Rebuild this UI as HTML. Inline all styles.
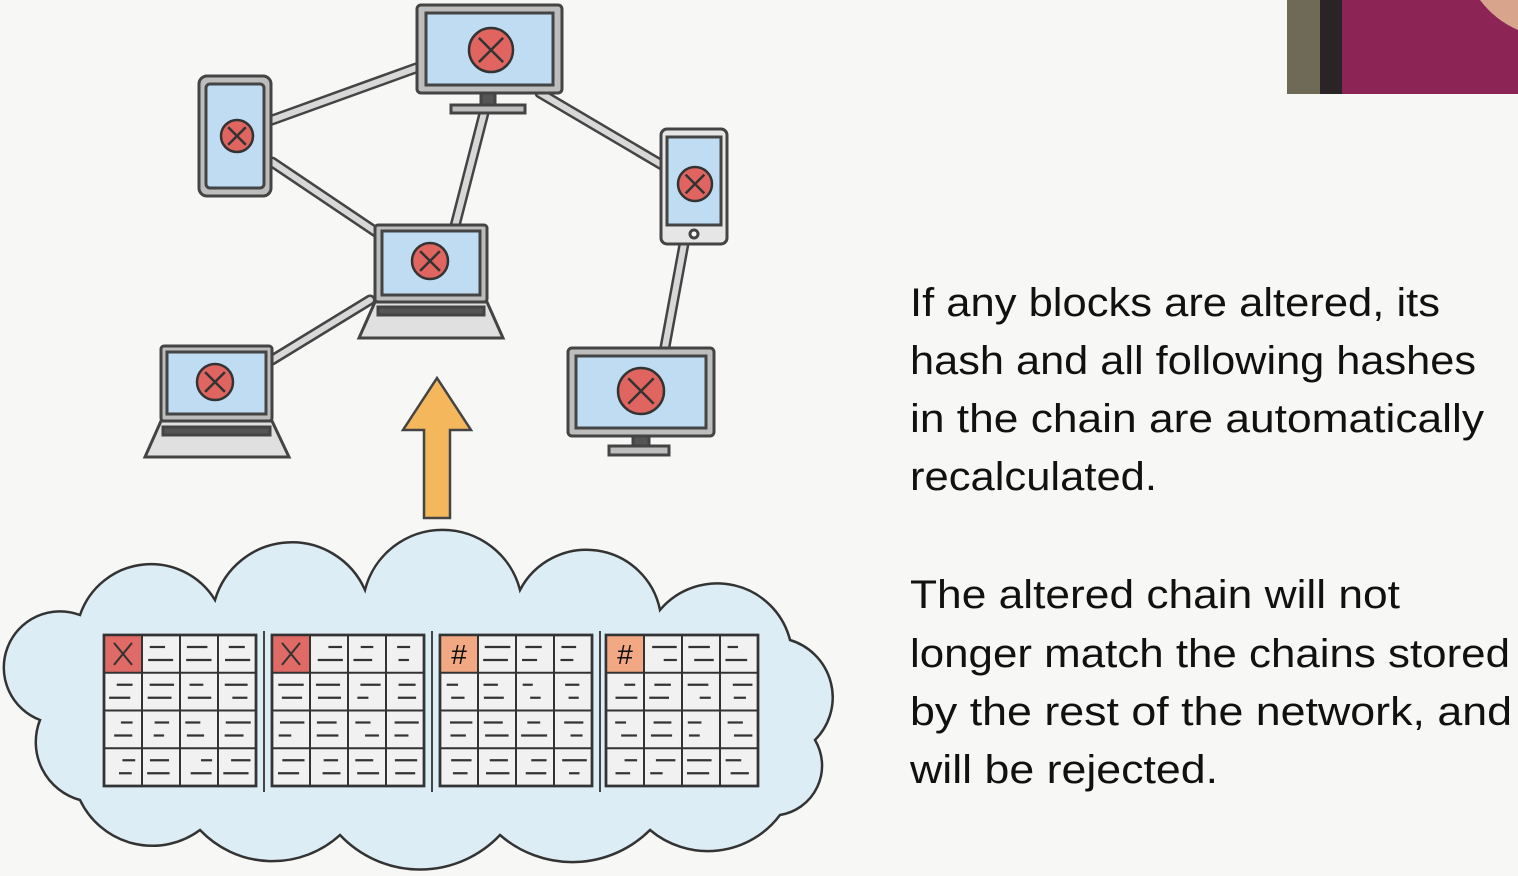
<!DOCTYPE html>
<html><head><meta charset="utf-8"><style>
html,body{margin:0;padding:0;background:#f7f7f5;width:1518px;height:876px;overflow:hidden;}
svg{display:block}
text{font-family:"Liberation Sans",sans-serif;fill:#111;}
</style></head><body>
<svg id="s" width="1518" height="876" viewBox="0 0 1518 876" xmlns="http://www.w3.org/2000/svg">
<rect width="1518" height="876" fill="#f7f7f5"/>
<!-- photo -->
<rect x="1287" y="0" width="231" height="94" fill="#8c2556"/>
<rect x="1287" y="0" width="35" height="94" fill="#6f6a55"/>
<rect x="1320" y="0" width="22" height="94" fill="#2a2426"/>
<path d="M1480,0 L1518,0 L1518,30 Q1495,20 1480,0Z" fill="#d9a48c"/>
<!-- connectors -->
<g stroke-linecap="round" fill="none">
<g stroke="#444" stroke-width="11">
<line x1="416" y1="68" x2="272" y2="120"/><line x1="540" y1="93" x2="662" y2="165"/>
<line x1="484" y1="113" x2="455" y2="226"/><line x1="272" y1="162" x2="376" y2="232"/>
<line x1="370" y1="300" x2="272" y2="360"/><line x1="684" y1="244" x2="665" y2="347"/>
</g>
<g stroke="#d8d8d8" stroke-width="6">
<line x1="416" y1="68" x2="272" y2="120"/><line x1="540" y1="93" x2="662" y2="165"/>
<line x1="484" y1="113" x2="455" y2="226"/><line x1="272" y1="162" x2="376" y2="232"/>
<line x1="370" y1="300" x2="272" y2="360"/><line x1="684" y1="244" x2="665" y2="347"/>
</g></g>
<g stroke="#444" stroke-width="3">
<rect x="417" y="5" width="145" height="88" rx="4" fill="#bdbdbd"/>
<rect x="426" y="13" width="127" height="72" fill="#bfdcf2"/>
<rect x="481" y="93" width="14" height="12" fill="#555"/>
<rect x="451" y="105" width="74" height="8" fill="#bdbdbd"/>
<rect x="199" y="76" width="72" height="120" rx="8" fill="#bdbdbd"/>
<rect x="206" y="84" width="58" height="104" rx="4" fill="#bfdcf2"/>
<rect x="661" y="129" width="66" height="115" rx="6" fill="#e6e6e6"/>
<rect x="667" y="137" width="54" height="88" fill="#bfdcf2"/>
<circle cx="694" cy="234" r="4" fill="#fff"/>
<rect x="375" y="225" width="112" height="77" rx="3" fill="#bdbdbd"/>
<rect x="382" y="231" width="98" height="64" fill="#bfdcf2"/>
<path d="M375,302 L487,302 L503,338 L359,338Z" fill="#e0e0e0"/>
<rect x="378" y="307" width="106" height="8" fill="#555"/>
<rect x="161" y="346" width="111" height="75" rx="3" fill="#bdbdbd"/>
<rect x="167" y="352" width="99" height="62" fill="#bfdcf2"/>
<path d="M161,421 L272,421 L289,457 L145,457Z" fill="#e0e0e0"/>
<rect x="163" y="427" width="107" height="8" fill="#555"/>
<rect x="568" y="348" width="146" height="88" rx="4" fill="#bdbdbd"/>
<rect x="576" y="356" width="130" height="72" fill="#bfdcf2"/>
<rect x="633" y="436" width="16" height="10" fill="#555"/>
<rect x="609" y="446" width="60" height="9" fill="#bdbdbd"/>
</g>
<g id="circ" stroke="#333" stroke-width="2.5" fill="#e0645f"></g>
<path d="M424,518 L424,430 L403,430 L437,378 L471,430 L450,430 L450,518Z" fill="#f4b75c" stroke="#444" stroke-width="2.5"/>
<!-- cloud -->
<path d="M80,615 A75,75 0 0 1 215,600 A80,80 0 0 1 365,590 A80,80 0 0 1 520,590 A75,75 0 0 1 660,610 A75,75 0 0 1 790,640 A60,60 0 0 1 815,740 A50,50 0 0 1 780,815 A90,90 0 0 1 650,830 A110,110 0 0 1 500,835 A110,110 0 0 1 340,835 A100,100 0 0 1 200,830 A80,80 0 0 1 80,800 A60,60 0 0 1 40,720 A55,55 0 0 1 80,615Z" fill="#ddedf5" stroke="#333" stroke-width="2.5"/>
<g id="grids"></g>
<g font-size="40">
<text x="910" y="316" textLength="530" lengthAdjust="spacingAndGlyphs">If any blocks are altered, its</text>
<text x="910" y="374" textLength="566" lengthAdjust="spacingAndGlyphs">hash and all following hashes</text>
<text x="910" y="432" textLength="574" lengthAdjust="spacingAndGlyphs">in the chain are automatically</text>
<text x="910" y="490" textLength="247" lengthAdjust="spacingAndGlyphs">recalculated.</text>
<text x="910" y="608" textLength="490" lengthAdjust="spacingAndGlyphs">The altered chain will not</text>
<text x="910" y="667" textLength="600" lengthAdjust="spacingAndGlyphs">longer match the chains stored</text>
<text x="910" y="725" textLength="602" lengthAdjust="spacingAndGlyphs">by the rest of the network, and</text>
<text x="910" y="783" textLength="308" lengthAdjust="spacingAndGlyphs">will be rejected.</text>
</g>
</svg>
<script>
var NS="http://www.w3.org/2000/svg";
function el(p,t,a){var e=document.createElementNS(NS,t);for(var k in a)e.setAttribute(k,a[k]);p.appendChild(e);return e;}
var c=document.getElementById("circ");
[[491,50,22],[237,136,16],[695,184,17],[430,261,18],[215,382,18],[641,391,23]].forEach(function(v){
 el(c,"circle",{cx:v[0],cy:v[1],r:v[2]});
 var d=v[2]*0.55;
 el(c,"path",{d:"M"+(v[0]-d)+","+(v[1]-d)+"L"+(v[0]+d)+","+(v[1]+d)+"M"+(v[0]+d)+","+(v[1]-d)+"L"+(v[0]-d)+","+(v[1]+d),fill:"none"});
});
var g=document.getElementById("grids");
var xs=[104,272,440,606],W=152,H=151,cw=W/4,ch=H/4,y0=635;
var seed=3;function rnd(){seed=(seed*9301+49297)%233280;return seed/233280;}
xs.forEach(function(x0,i){
 el(g,"rect",{x:x0,y:y0,width:W,height:H,fill:"#f1f1f1",stroke:"#333","stroke-width":2.5});
 var col=i<2?"#e06a66":"#f2a882";
 el(g,"rect",{x:x0,y:y0,width:cw,height:ch,fill:col});
 for(var k=1;k<4;k++){el(g,"line",{x1:x0+k*cw,y1:y0,x2:x0+k*cw,y2:y0+H,stroke:"#333","stroke-width":2});
  el(g,"line",{x1:x0,y1:y0+k*ch,x2:x0+W,y2:y0+k*ch,stroke:"#333","stroke-width":2});}
 el(g,"rect",{x:x0,y:y0,width:W,height:H,fill:"none",stroke:"#333","stroke-width":2.5});
 var cx=x0+cw/2,cy=y0+ch/2;
 if(i<2) el(g,"path",{d:"M"+(cx-9)+","+(cy-11)+"L"+(cx+9)+","+(cy+11)+"M"+(cx+9)+","+(cy-11)+"L"+(cx-9)+","+(cy+11),stroke:"#333","stroke-width":2,fill:"none"});
 else {var t=el(g,"text",{x:cx,y:cy+10,"text-anchor":"middle","font-size":"28"});t.textContent="#";}
 for(var r=0;r<4;r++)for(var q=0;q<4;q++){if(r==0&&q==0)continue;
  var bx=x0+q*cw,by=y0+r*ch;
  for(var m=0;m<2;m++){var w=10+rnd()*16,ox=5+rnd()*(cw-10-w);
   el(g,"line",{x1:bx+ox,y1:by+12+m*13,x2:bx+ox+w,y2:by+12+m*13,stroke:"#333","stroke-width":2.2});}}
 if(i<3) el(g,"line",{x1:x0+W+8,y1:y0-4,x2:x0+W+8,y2:y0+H+6,stroke:"#444","stroke-width":2});
});
</script>
</body></html>
